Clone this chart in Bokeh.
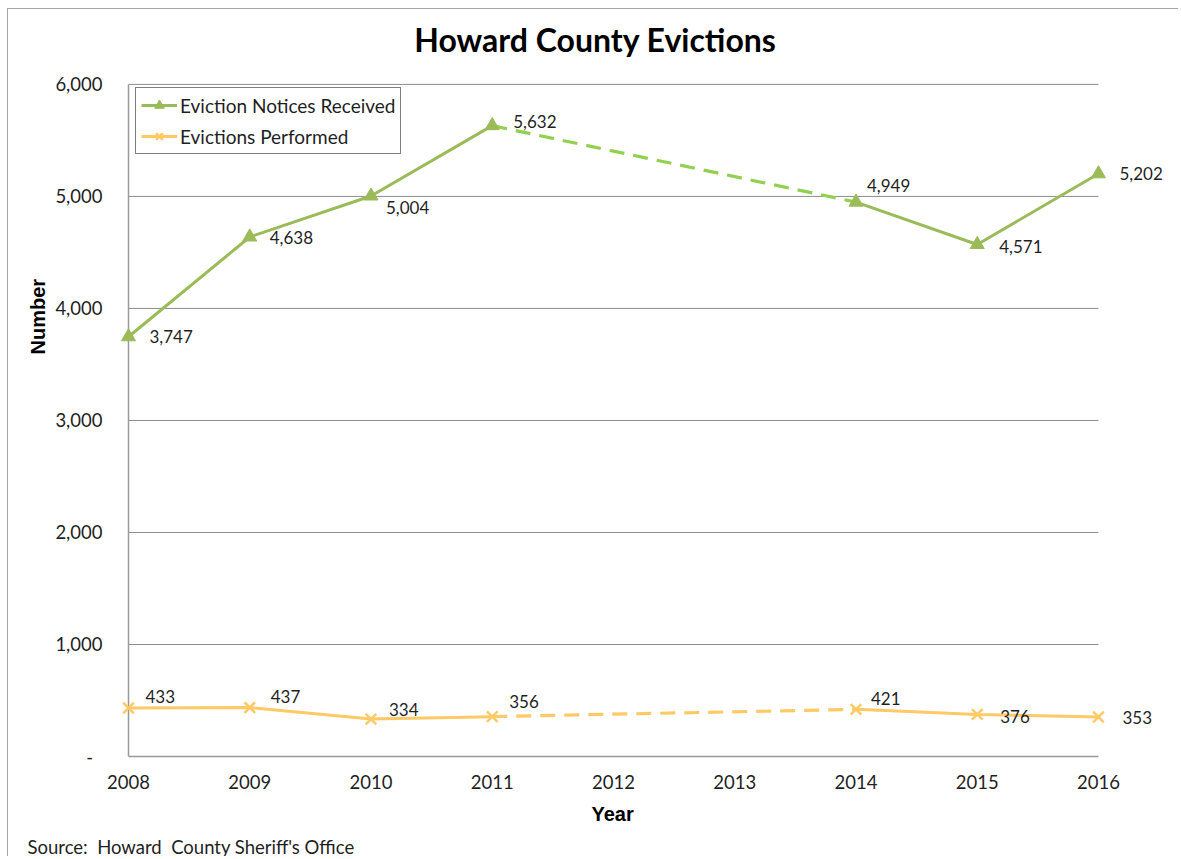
import numpy as np
from bokeh.plotting import figure
from bokeh.models import ColumnDataSource, LabelSet, Label, Legend, LegendItem, FixedTicker, Title
from bokeh.embed import file_html
from bokeh.resources import INLINE
from bokeh.core.properties import value

# ---------------- data ----------------
years = [2008, 2009, 2010, 2011, 2014, 2015, 2016]
notices = [3747, 4638, 5004, 5632, 4949, 4571, 5202]
performed = [433, 437, 334, 356, 421, 376, 353]

x_ticks = [2008, 2009, 2010, 2011, 2012, 2013, 2014, 2015, 2016]
x_tick_labels = ["2008", "2009", "2010", "2011", "2012", "2013", "2014", "2015", "2016"]
y_ticks = [0, 1000, 2000, 3000, 4000, 5000, 6000]
y_tick_labels = ["-\u00a0\u00a0", "1,000", "2,000", "3,000", "4,000", "5,000", "6,000"]

series_names = ["Eviction Notices Received", "Evictions Performed"]
title_text = "Howard County Evictions"
x_title = "Year"
y_title = "Number"
source_text = "Source:\u00a0\u00a0Howard\u00a0\u00a0County Sheriff's Office"

# data-label placement (screen px offsets, style only)
notice_dx = [21, 20, 15, 21, 11, 22, 21]
notice_dy = [0, -1, -12, 4, 17, -2, 0]
perf_dx = [17, 21, 18, 17, 15, 23, 24]
perf_dy = [12, 11, 10, 15, 11, -2, -1]

# ---------------- style ----------------
FONT = "Lato"
TXT = "#1f1f1f"
GREEN = "#9bbb59"
GREEN_DASH = "#92d050"
YELLOW = "#ffc966"
GRID = "#8c8c8c"


def split(xs, ys):
    """solid path with NaN breaks at missing years, and dashed bridge segments"""
    sx, sy, dx, dy = [], [], [], []
    for i in range(len(xs)):
        if i > 0 and xs[i] - xs[i - 1] > 1:
            sx.append(np.nan)
            sy.append(np.nan)
            if dx:
                dx.append(np.nan)
                dy.append(np.nan)
            dx += [xs[i - 1], xs[i]]
            dy += [ys[i - 1], ys[i]]
        sx.append(xs[i])
        sy.append(ys[i])
    return (np.array(sx, float), np.array(sy, float),
            np.array(dx, float), np.array(dy, float))


p = figure(width=1171, height=848, title=None,
           x_range=(2007.901, 2016.594), y_range=(-26.75, 6570.5),
           output_backend="svg", toolbar_location=None,
           min_border_left=108, min_border_right=9,
           min_border_top=11, min_border_bottom=97)
p.styles = {"margin-left": "7px", "margin-top": "8px",
            "border-left": "1px solid #a6a6a6", "border-top": "1px solid #a6a6a6"}
p.outline_line_color = None
p.xgrid.visible = False
p.ygrid.visible = False
p.background_fill_color = "white"
p.border_fill_color = "white"

# gridlines and axis lines drawn across the data span
p.segment(x0=[x_ticks[0]] * (len(y_ticks) - 1), x1=[x_ticks[-1]] * (len(y_ticks) - 1),
          y0=y_ticks[1:], y1=y_ticks[1:], line_color=GRID, line_width=1)
p.segment(x0=[x_ticks[0]], x1=[x_ticks[-1]], y0=[y_ticks[0]], y1=[y_ticks[0]],
          line_color="#999999", line_width=1.5)
p.segment(x0=[x_ticks[0]], x1=[x_ticks[0]], y0=[y_ticks[0]], y1=[y_ticks[-1]],
          line_color="#999999", line_width=1.5)

# series
gsx, gsy, gdx, gdy = split(years, notices)
ysx, ysy, ydx, ydy = split(years, performed)

g_dash = p.line(gdx, gdy, line_color=GREEN_DASH, line_width=3.2, line_dash="15 9")
y_dash = p.line(ydx, ydy, line_color=YELLOW, line_width=3.2, line_dash="15 9")
g_line = p.line(gsx, gsy, line_color=GREEN, line_width=3)
y_line = p.line(ysx, ysy, line_color=YELLOW, line_width=3)
g_mark = p.scatter(years, notices, marker="triangle", size=14,
                   fill_color=GREEN, line_color=GREEN)
y_mark = p.scatter(years, performed, marker="x", size=15,
                   line_color=YELLOW, line_width=2.5)

# data labels
src_n = ColumnDataSource(dict(x=years, y=notices, t=[f"{v:,}" for v in notices],
                              dx=notice_dx, dy=notice_dy))
src_p = ColumnDataSource(dict(x=years, y=performed, t=[f"{v:,}" for v in performed],
                              dx=perf_dx, dy=perf_dy))
for src in (src_n, src_p):
    p.add_layout(LabelSet(x="x", y="y", text="t", source=src,
                          x_offset="dx", y_offset="dy",
                          text_font=value(FONT), text_font_size="17px",
                          text_color=TXT, text_align="left", text_baseline="middle"))

# axes
p.xaxis.ticker = FixedTicker(ticks=x_ticks)
p.xaxis.major_label_overrides = {t: l for t, l in zip(x_ticks, x_tick_labels)}
p.yaxis.ticker = FixedTicker(ticks=y_ticks)
p.yaxis.major_label_overrides = {t: l for t, l in zip(y_ticks, y_tick_labels)}
for ax in (p.xaxis, p.yaxis):
    ax.axis_line_color = None
    ax.major_tick_line_color = None
    ax.minor_tick_line_color = None
    ax.major_label_text_font = FONT
    ax.major_label_text_font_size = "18.5px"
    ax.major_label_text_color = TXT
p.xaxis.major_label_standoff = 9
p.yaxis.major_label_standoff = 8

# legend
legend = Legend(items=[LegendItem(label=series_names[0], renderers=[g_line, g_mark]),
                       LegendItem(label=series_names[1], renderers=[y_line, y_mark])],
                location=(19, 605), orientation="vertical",
                glyph_width=36, glyph_height=24, label_height=24,
                label_standoff=3, spacing=7, padding=5, margin=0,
                border_line_color="black", border_line_width=1,
                background_fill_color="white", background_fill_alpha=1,
                label_text_font=FONT, label_text_font_size="19px",
                label_text_color=TXT, label_text_baseline="middle")
p.add_layout(legend)

# chart title inside the (tall) frame
xc = (x_ticks[0] + x_ticks[-1]) / 2
p.add_layout(Label(x=xc, y=y_ticks[-1], x_offset=-18, y_offset=45, text=title_text,
                   text_font=FONT, text_font_size="32px", text_font_style="bold",
                   text_color="black", text_align="center", text_baseline="middle"))

# axis titles and source as side titles
p.add_layout(Title(text=x_title, align="left", offset=475, standoff=18,
                   text_font="Liberation Sans", text_font_size="20px",
                   text_font_style="bold", text_color="black"), "below")
p.add_layout(Title(text=source_text, align="left", offset=-89, standoff=0,
                   text_font=FONT, text_font_size="18.5px", text_font_style="normal",
                   text_color=TXT), "below")
p.add_layout(Title(text=y_title, align="left", offset=405, standoff=8,
                   text_font="Liberation Sans", text_font_size="20px",
                   text_font_style="bold", text_color="black"), "left")

open("out.html", "w").write(file_html(p, INLINE))
